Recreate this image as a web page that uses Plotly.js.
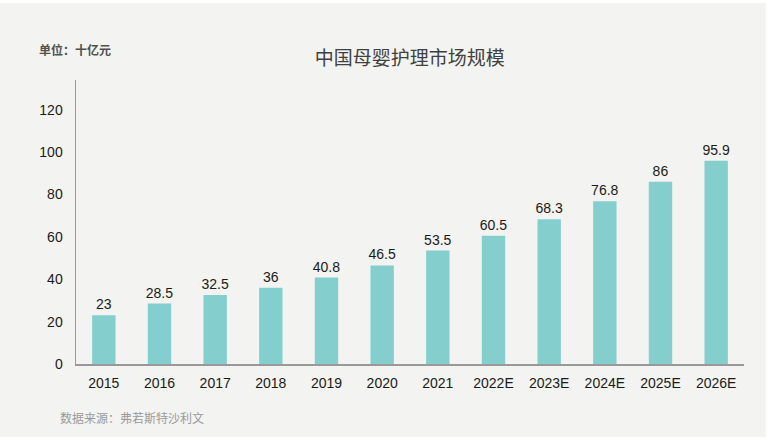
<!DOCTYPE html>
<html>
<head>
<meta charset="utf-8">
<script src="https://cdn.plot.ly/plotly-3.0.1.min.js"></script>
<style>
html,body{margin:0;padding:0;background:#ffffff;}
#chart{position:absolute;left:0;top:3px;width:766px;height:434px;}
</style>
</head>
<body>
<div id="chart"></div>
<script>
var years = ["2015","2016","2017","2018","2019","2020","2021","2022E","2023E","2024E","2025E","2026E"];
var marketSize = [23, 28.5, 32.5, 36, 40.8, 46.5, 53.5, 60.5, 68.3, 76.8, 86, 95.9];
var yTicks = [0, 20, 40, 60, 80, 100, 120];
var chartTitle = "中国母婴护理市场规模";
var unitLabel = "单位：十亿元";
var sourceLabel = "数据来源：弗若斯特沙利文";

var font = "Liberation Sans, Arial, Noto Sans CJK SC, sans-serif";
var cjk = "Noto Sans CJK SC, Liberation Sans, sans-serif";

var trace = {
  type: "bar",
  x: years,
  y: marketSize,
  text: marketSize.map(String),
  textposition: "outside",
  cliponaxis: false,
  textfont: {family: font, size: 14, color: "#1a1a1a"},
  marker: {color: "#84cece"},
  hoverinfo: "x+y"
};

var layout = {
  width: 766,
  height: 434,
  paper_bgcolor: "#f3f3f1",
  plot_bgcolor: "#f3f3f1",
  margin: {l: 76, r: 22, t: 77, b: 73},
  bargap: 0.58,
  showlegend: false,
  uniformtext: {mode: "show", minsize: 14},
  title: {
    text: chartTitle,
    font: {family: cjk, size: 19, color: "#404040"},
    xref: "container", yref: "container",
    x: 0.535, xanchor: "center",
    y: 0.873, yanchor: "middle"
  },
  xaxis: {
    type: "category",
    showline: true,
    linecolor: "#999999",
    linewidth: 1.5,
    showgrid: false,
    ticks: "outside",
    ticklen: 6,
    tickcolor: "rgba(0,0,0,0)",
    tickfont: {family: font, size: 14, color: "#1a1a1a"},
    fixedrange: true
  },
  yaxis: {
    range: [0, 134],
    tickvals: yTicks,
    showline: true,
    linecolor: "#999999",
    linewidth: 1.5,
    showgrid: false,
    zeroline: false,
    ticks: "outside",
    ticklen: 9,
    tickcolor: "rgba(0,0,0,0)",
    tickfont: {family: font, size: 14, color: "#1a1a1a"},
    fixedrange: true
  },
  annotations: [
    {
      text: unitLabel,
      xref: "paper", yref: "paper",
      x: -0.0584, y: 1.106,
      xanchor: "left", yanchor: "middle",
      showarrow: false,
      font: {family: cjk, size: 12, color: "#505050", weight: "bold"}
    },
    {
      text: sourceLabel,
      xref: "paper", yref: "paper",
      x: -0.0269, y: -0.19,
      xanchor: "left", yanchor: "middle",
      showarrow: false,
      font: {family: cjk, size: 12, color: "#9a9a9a"}
    }
  ]
};

Plotly.newPlot("chart", [trace], layout, {displayModeBar: false, staticPlot: true});
</script>
</body>
</html>
